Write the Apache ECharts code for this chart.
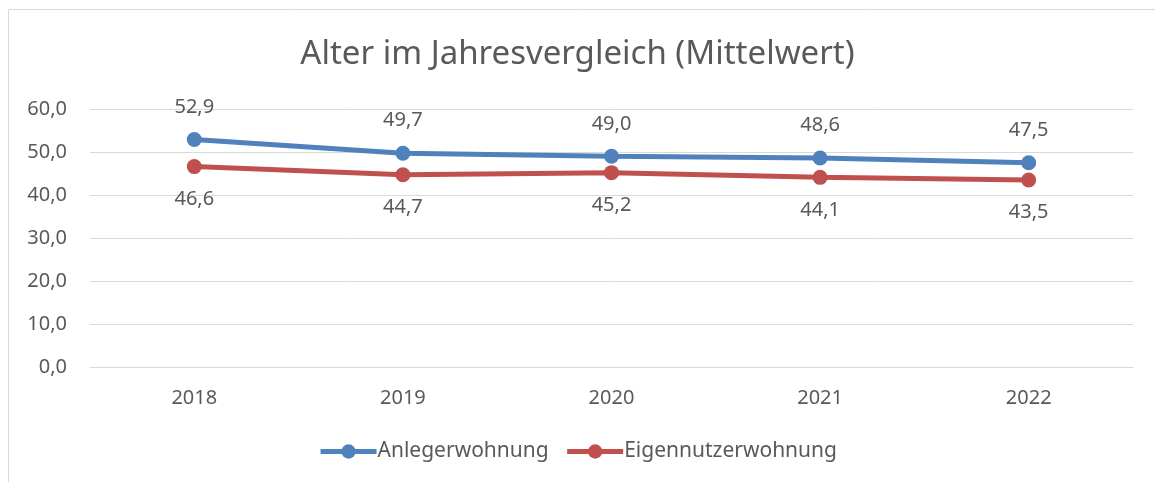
<!DOCTYPE html>
<html lang="de">
<head>
    <meta charset="UTF-8">
    <title>Alter im Jahresvergleich</title>
    <script src="https://cdn.jsdelivr.net/npm/echarts@6/dist/echarts.min.js"></script>
    <style>
        html, body { margin: 0; padding: 0; background: #fff; }
    </style>
</head>
<body>
<div id="main" style="width: 1155px;height:482px;"></div>
</body>

<script type="text/javascript">

    var years = ['2018', '2019', '2020', '2021', '2022'];
    var anleger = [52.9, 49.7, 49.0, 48.6, 47.5];
    var eigennutzer = [46.6, 44.7, 45.2, 44.1, 43.5];

    var fmt = function (v) {
        return Number(v).toFixed(1).replace('.', ',');
    };

    var textColor = '#595959';
    var font = 'Noto Sans';

    var myChart = echarts.init(document.getElementById('main'));

    var option = {
        backgroundColor: '#fff',
        animation: false,
        title: {
            text: 'Alter im Jahresvergleich (Mittelwert)',
            left: 'center',
            top: 33,
            textStyle: {
                color: textColor,
                fontFamily: font,
                fontSize: 33,
                fontWeight: 'normal'
            }
        },
        graphic: [{
            type: 'rect',
            shape: {x: 8.5, y: 9.5, width: 1200, height: 500},
            style: {fill: 'none', stroke: '#d9d9d9', lineWidth: 1},
            silent: true
        }],
        legend: {
            bottom: 15,
            left: 'center',
            itemWidth: 56,
            itemHeight: 18,
            itemGap: 16,
            data: ['Anlegerwohnung', 'Eigennutzerwohnung'],
            lineStyle: {width: 5},
            textStyle: {
                color: textColor,
                fontFamily: font,
                fontSize: 21,
                padding: [0, 0, 0, -4]
            }
        },
        grid: {
            left: 90,
            right: 22,
            top: 109,
            bottom: 115
        },
        xAxis: {
            type: 'category',
            data: years,
            boundaryGap: true,
            axisLine: {lineStyle: {color: '#d9d9d9', width: 1}},
            axisTick: {show: false},
            axisLabel: {
                color: textColor,
                fontFamily: font,
                fontSize: 20,
                margin: 21
            }
        },
        yAxis: {
            type: 'value',
            min: 0,
            max: 60,
            interval: 10,
            axisLine: {show: false},
            axisTick: {show: false},
            splitLine: {lineStyle: {color: '#d9d9d9', width: 1}},
            axisLabel: {
                color: textColor,
                fontFamily: font,
                fontSize: 20,
                margin: 23,
                formatter: fmt
            }
        },
        series: [
            {
                name: 'Anlegerwohnung',
                type: 'line',
                data: anleger,
                symbol: 'circle',
                symbolSize: 15,
                color: '#4f81bd',
                lineStyle: {width: 5, color: '#4f81bd'},
                label: {
                    show: true,
                    position: 'top',
                    distance: 15,
                    color: textColor,
                    fontFamily: font,
                    fontSize: 20,
                    formatter: function (p) { return fmt(p.value); }
                }
            },
            {
                name: 'Eigennutzerwohnung',
                type: 'line',
                data: eigennutzer,
                symbol: 'circle',
                symbolSize: 15,
                color: '#c0504d',
                lineStyle: {width: 5, color: '#c0504d'},
                label: {
                    show: true,
                    position: 'bottom',
                    distance: 15,
                    color: textColor,
                    fontFamily: font,
                    fontSize: 20,
                    formatter: function (p) { return fmt(p.value); }
                }
            }
        ]
    };

    myChart.setOption(option);

</script>
</html>
